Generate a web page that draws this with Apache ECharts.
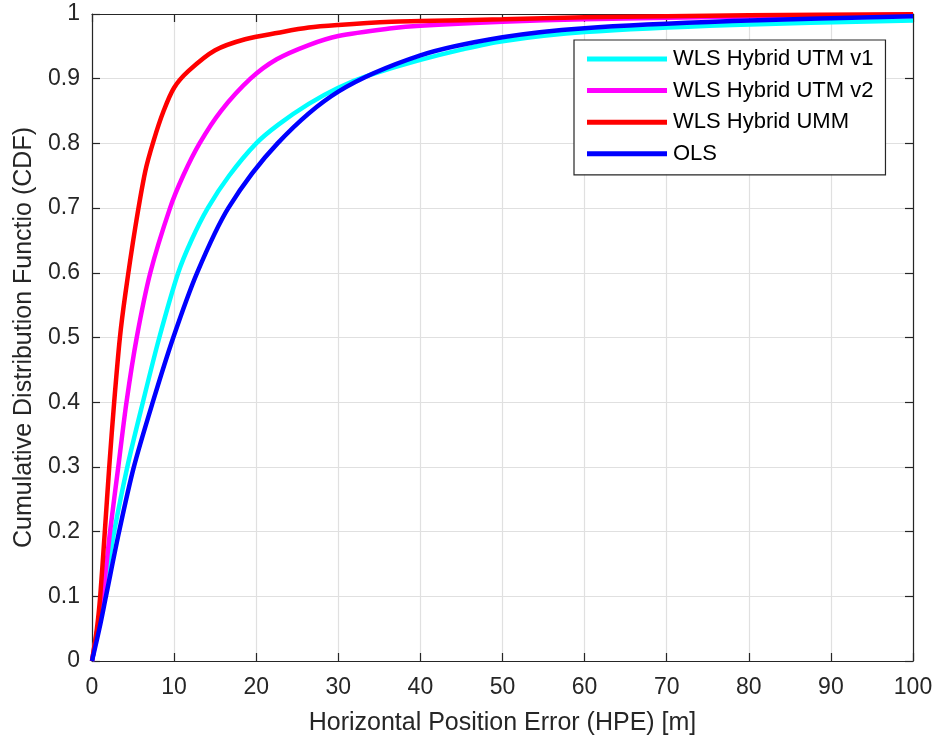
<!DOCTYPE html>
<html>
<head>
<meta charset="utf-8">
<script src="https://cdn.jsdelivr.net/npm/echarts@6/dist/echarts.min.js"></script>
<style>html,body{margin:0;padding:0;background:#fff}#c{width:937px;height:742px}</style>
</head>
<body>
<div id="c"></div>
<script>
const seriesNames = ['WLS Hybrid UTM v1', 'WLS Hybrid UTM v2', 'WLS Hybrid UMM', 'OLS'];
const xTicks = [0, 10, 20, 30, 40, 50, 60, 70, 80, 90, 100];
const yTicks = [0, 0.1, 0.2, 0.3, 0.4, 0.5, 0.6, 0.7, 0.8, 0.9, 1];

const v1X = [0, 1.35, 2.7, 4.3, 6.2, 8.2, 10.5, 12.1, 14.1, 16.7, 20.0, 22.7, 26.4, 30.0, 33.7, 40, 45, 50, 60, 78, 100];
const v1Y = [0, 0.1, 0.2, 0.3, 0.4, 0.5, 0.6, 0.65, 0.7, 0.75, 0.8, 0.829, 0.861, 0.886, 0.905, 0.929, 0.945, 0.958, 0.972, 0.983, 0.99];

const v2X = [0, 1.3, 2.2, 3.2, 4.2, 5.45, 7.1, 9.5, 11.1, 13.1, 15.7, 19.3, 22.5, 26.4, 30.0, 36.5, 40, 50, 60, 80, 100];
const v2Y = [0, 0.1, 0.2, 0.3, 0.4, 0.5, 0.6, 0.7, 0.75, 0.8, 0.85, 0.9, 0.93, 0.952, 0.966, 0.978, 0.982, 0.988, 0.992, 0.996, 0.999];

const ummX = [0, 0.6, 1.0, 1.56, 2.1, 2.7, 3.4, 4.06, 5.27, 6.49, 7.5, 8.72, 10.0, 11.76, 15.0, 18.65, 22.7, 26.4, 30.0, 36.5, 40, 50, 60, 80, 100];
const ummY = [0, 0.05, 0.1, 0.2, 0.3, 0.4, 0.5, 0.567, 0.67, 0.757, 0.804, 0.85, 0.886, 0.912, 0.944, 0.961, 0.971, 0.979, 0.983, 0.988, 0.989, 0.992, 0.995, 0.998, 0.9995];

const olsX = [0, 0.9, 1.7, 3.3, 5.1, 7.4, 9.9, 12.8, 16.6, 22.6, 30, 40, 50, 60, 78, 100];
const olsY = [0, 0.05, 0.1, 0.2, 0.3, 0.4, 0.5, 0.6, 0.7, 0.8, 0.88, 0.936, 0.964, 0.978, 0.989, 0.9965];

const colors = ['#00ffff', '#ff00ff', '#ff0000', '#0000ff'];
const xsAll = [v1X, v2X, ummX, olsX];
const ysAll = [v1Y, v2Y, ummY, olsY];

const FONT = 'Liberation Sans, Arial, Helvetica, sans-serif';
const AX = '#262626';

const chart = echarts.init(document.getElementById('c'), null, {renderer: 'canvas'});

function pairs(xs, ys) { return xs.map((x, i) => [x, ys[i]]); }

const axisCommon = {
  axisLine: {show: true, onZero: false, lineStyle: {color: AX, width: 1.2}},
  axisTick: {show: true, inside: true, length: 8, lineStyle: {color: AX, width: 1.2}},
};

chart.setOption({
  animation: false,
  backgroundColor: '#ffffff',
  grid: {left: 92, right: 24, top: 14, bottom: 81, containLabel: false},
  legend: {
    data: seriesNames,
    orient: 'vertical',
    left: 574, top: 40,
    padding: [6, 12, 8, 13],
    itemWidth: 80, itemHeight: 5, itemGap: 5.6,
    icon: 'rect',
    backgroundColor: '#ffffff',
    borderColor: AX, borderWidth: 1.2,
    textStyle: {fontFamily: FONT, fontSize: 22, color: '#000', lineHeight: 26, padding: [0, 0, 0, 1]}
  },
  xAxis: [{
    type: 'value', min: xTicks[0], max: xTicks[xTicks.length - 1], interval: 10,
    position: 'bottom',
    name: 'Horizontal Position Error (HPE) [m]', nameLocation: 'middle', nameGap: 50,
    nameTextStyle: {fontFamily: FONT, fontSize: 25, color: AX},
    axisLabel: {fontFamily: FONT, fontSize: 23, color: AX, margin: 15},
    splitLine: {show: true, lineStyle: {color: '#e0e0e0', width: 1.2}},
    ...axisCommon
  }, {
    type: 'value', min: xTicks[0], max: xTicks[xTicks.length - 1], interval: 10,
    position: 'top',
    axisLabel: {show: false}, splitLine: {show: false},
    ...axisCommon
  }],
  yAxis: [{
    type: 'value', min: yTicks[0], max: yTicks[yTicks.length - 1], interval: 0.1,
    position: 'left',
    name: 'Cumulative Distribution Functio (CDF)', nameLocation: 'middle', nameGap: 55,
    nameTextStyle: {fontFamily: FONT, fontSize: 25, color: AX},
    axisLabel: {fontFamily: FONT, fontSize: 23, color: AX, margin: 12,
      formatter: v => String(Math.round(v * 10) / 10)},
    splitLine: {show: true, lineStyle: {color: '#e0e0e0', width: 1.2}},
    ...axisCommon
  }, {
    type: 'value', min: yTicks[0], max: yTicks[yTicks.length - 1], interval: 0.1,
    position: 'right',
    axisLabel: {show: false}, splitLine: {show: false},
    ...axisCommon
  }],
  series: seriesNames.map((n, i) => ({
    name: n, type: 'line', xAxisIndex: 0, yAxisIndex: 0,
    data: pairs(xsAll[i], ysAll[i]),
    smooth: 0.3,
    showSymbol: false, symbol: 'none',
    color: colors[i],
    lineStyle: {color: colors[i], width: 4.5},
    z: 3 + i
  }))
});
</script>
</body>
</html>
